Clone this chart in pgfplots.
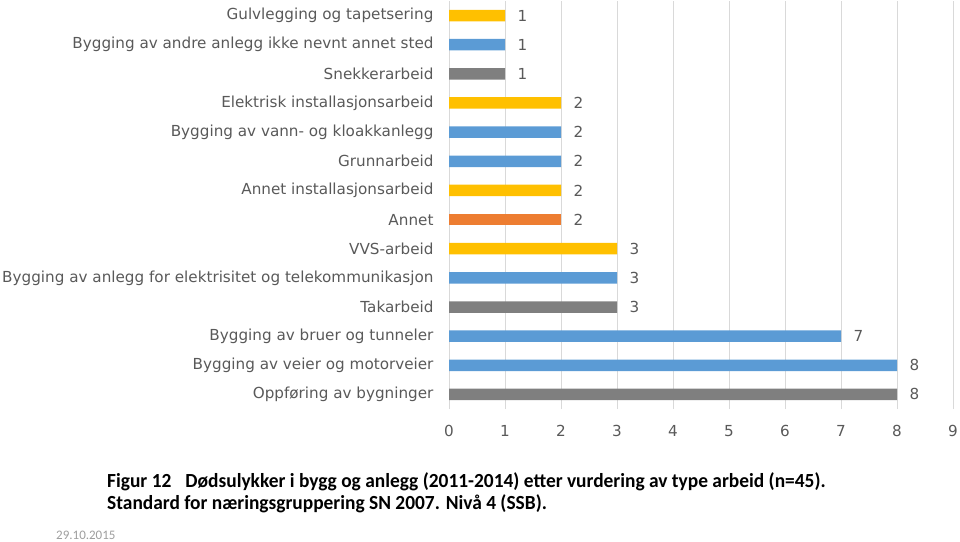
\documentclass[border=0pt]{standalone}
\usepackage{pgfplots}
\pgfplotsset{compat=1.18}
\usepackage{fontspec}
\setmainfont{DejaVu Sans}
\newfontfamily\capfont[FakeStretch=0.97]{Carlito}
\newfontfamily\datefont{Carlito}
\definecolor{cgold}{HTML}{FFC000}
\definecolor{cblue}{HTML}{5B9BD5}
\definecolor{cgray}{HTML}{7F7F7F}
\definecolor{corange}{HTML}{ED7D31}
\definecolor{gridc}{HTML}{D9D9D9}
\definecolor{labc}{HTML}{595959}
\begin{document}
\begin{tikzpicture}[x=1pt,y=1pt]
\useasboundingbox (0,0) rectangle (960,541);
\begin{axis}[at={(449pt,132pt)}, anchor=south west, scale only axis,
  width=504pt, height=408pt,
  xbar, bar shift=0pt, bar width=11.5pt,
  xmin=0, xmax=9, ymin=-0.5, ymax=13.5,
  xtick={0,...,9}, ytick={0,...,13},
  yticklabels={Oppføring av bygninger, Bygging av veier og motorveier, Bygging av bruer og tunneler, Takarbeid, Bygging av anlegg for elektrisitet og telekommunikasjon, VVS-arbeid, Annet, Annet installasjonsarbeid, Grunnarbeid, Bygging av vann- og kloakkanlegg, Elektrisk installasjonsarbeid, Snekkerarbeid, Bygging av andre anlegg ikke nevnt annet sted, Gulvlegging og tapetsering},
  xmajorgrids, grid style={draw=gridc, line width=0.8pt},
  axis lines=left, axis line style={-},
  x axis line style={draw=none},
  y axis line style={draw=gridc, line width=0.8pt},
  major tick length=0pt,
  tick label style={font=\fontsize{15.2}{17}\selectfont, text=labc},
  /pgf/number format/assume math mode=true,
  xticklabel style={yshift=-13pt},
  yticklabel style={xshift=-12pt},
  nodes near coords,
  nodes near coords style={font=\fontsize{15.2}{17}\selectfont, text=labc, anchor=west, xshift=9pt},
  clip=false,
]
\addplot[draw=none, fill=cgold] coordinates {(1,13) (2,10) (2,7) (3,5)};
\addplot[draw=none, fill=cblue] coordinates {(1,12) (2,9) (2,8) (3,4) (7,2) (8,1)};
\addplot[draw=none, fill=cgray] coordinates {(1,11) (3,3) (8,0)};
\addplot[draw=none, fill=corange] coordinates {(2,6)};
\end{axis}
\node[anchor=base west, inner sep=0pt] at (107,54) {\capfont\bfseries\fontsize{20}{24}\selectfont Figur 12\hspace{14pt}Dødsulykker i bygg og anlegg (2011-2014) etter vurdering av type arbeid (n=45).};
\node[anchor=base west, inner sep=0pt] at (107,32) {\capfont\bfseries\fontsize{20}{24}\selectfont Standard for næringsgruppering SN 2007. Nivå 4 (SSB).};
\node[anchor=base west, inner sep=0pt, text=black!38] at (56,2) {\datefont\fontsize{13}{15}\selectfont 29.10.2015};
\end{tikzpicture}
\end{document}
